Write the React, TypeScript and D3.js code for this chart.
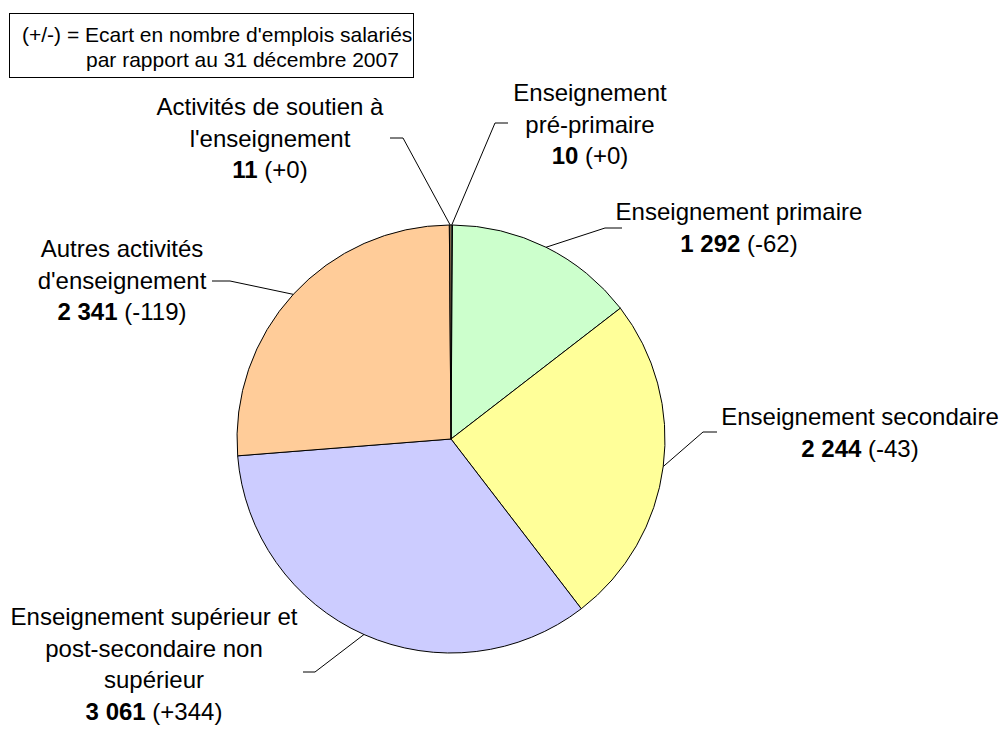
import React from 'react';
import * as d3 from 'd3';

// Sectors in clockwise order from 12 o'clock
const sectors = [
  'Enseignement pré-primaire',
  'Enseignement primaire',
  'Enseignement secondaire',
  'Enseignement supérieur et post-secondaire non supérieur',
  "Autres activités d'enseignement",
  "Activités de soutien à l'enseignement",
];
const jobs = [10, 1292, 2244, 3061, 2341, 11];
const jobsLabels = ['10', '1 292', '2 244', '3 061', '2 341', '11'];
const deltas = ['(+0)', '(-62)', '(-43)', '(+344)', '(-119)', '(+0)'];
const labelLines = [
  ['Enseignement', 'pré-primaire'],
  ['Enseignement primaire'],
  ['Enseignement secondaire'],
  ['Enseignement supérieur et', 'post-secondaire non', 'supérieur'],
  ['Autres activités', "d'enseignement"],
  ['Activités de soutien à', "l'enseignement"],
];
const colors = ['#CCFFCC', '#CCFFCC', '#FFFF99', '#CCCCFF', '#FFCC99', '#FFCC99'];

// label layout: text centre x, first baseline y, leader elbow, leader end
const layout = [
  { x: 590, y: 101, elbow: [495, 123], end: [508, 123] },
  { x: 739, y: 220, elbow: [605, 228], end: [622, 228] },
  { x: 860, y: 425, elbow: [703, 432], end: [717, 432] },
  { x: 154, y: 625, elbow: [315, 672], end: [303, 672] },
  { x: 122, y: 257, elbow: [230, 281], end: [212, 281] },
  { x: 270, y: 115, elbow: [403, 138], end: [390, 138] },
];

const W = 1007;
const H = 731;
const cx = 451;
const cy = 439;
const R = 214;
const FONT = '"Liberation Sans", Arial, sans-serif';
const LINE = 31.5;

const App: React.FC = () => {
  const pie = d3.pie<number>().sort(null).value(d => d);
  const arcs = pie(jobs);
  const arc = d3.arc<d3.PieArcDatum<number>>().innerRadius(0).outerRadius(R);

  return (
    <svg width={W} height={H} style={{ position: 'absolute', left: 0, top: 0, background: '#fff' }} fontFamily={FONT}>
      {/* legend box */}
      <rect x={9.5} y={13.5} width={404} height={64} fill="#fff" stroke="#000" strokeWidth={1} />
      <text x={22} y={42} fontSize={21} fill="#000">(+/-) = Ecart en nombre d'emplois salariés</text>
      <text x={86} y={67} fontSize={21} fill="#000">par rapport au 31 décembre 2007</text>

      <g transform={`translate(${cx},${cy})`}>
        {arcs.map((a, i) => (
          <path key={i} d={arc(a) || ''} fill={colors[i]} stroke="#000" strokeWidth={1} />
        ))}
      </g>

      {arcs.map((a, i) => {
        const mid = (a.startAngle + a.endAngle) / 2;
        const px = cx + R * Math.sin(mid);
        const py = cy - R * Math.cos(mid);
        const l = layout[i];
        const pts: [number, number][] = [[px, py], l.elbow as [number, number], l.end as [number, number]];
        return (
          <path key={'l' + i} d={d3.line()(pts) || ''} fill="none" stroke="#000" strokeWidth={1} />
        );
      })}

      {labelLines.map((lines, i) => {
        const l = layout[i];
        return (
          <text key={'t' + i} x={l.x} y={l.y} fontSize={24} textAnchor="middle" fill="#000">
            {lines.map((s, j) => (
              <tspan key={j} x={l.x} y={l.y + j * LINE}>{s}</tspan>
            ))}
            <tspan x={l.x} y={l.y + lines.length * LINE}>
              <tspan fontWeight="bold">{jobsLabels[i]}</tspan> {deltas[i]}
            </tspan>
          </text>
        );
      })}
    </svg>
  );
};

export default App;
